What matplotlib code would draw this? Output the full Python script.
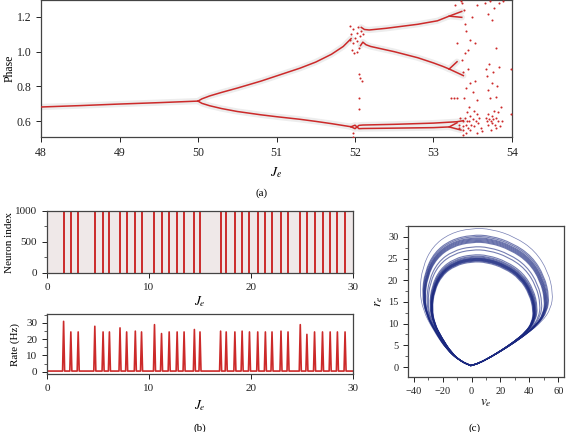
import numpy as np
import matplotlib.pyplot as plt
from matplotlib.path import Path
from matplotlib.patches import PathPatch
from matplotlib.ticker import MultipleLocator

plt.rcParams['font.family'] = ['Liberation Serif', 'DejaVu Serif']
plt.rcParams['mathtext.fontset'] = 'stix'

# ---- panel (a): bifurcation branches (J_e, phase) ----
stem_x = [48.0, 48.5, 49.0, 49.5, 50.0]
stem_y = [0.681, 0.689, 0.698, 0.706, 0.715]
up_x = [50.0, 50.05, 50.15, 50.3, 50.5, 50.8, 51.0, 51.3, 51.5, 51.7, 51.85, 51.95]
up_y = [0.715, 0.728, 0.745, 0.765, 0.79, 0.83, 0.86, 0.905, 0.94, 0.985, 1.03, 1.075]
lo_x = [50.0, 50.05, 50.15, 50.3, 50.5, 50.8, 51.0, 51.3, 51.5, 51.7, 51.95]
lo_y = [0.715, 0.702, 0.688, 0.672, 0.655, 0.636, 0.625, 0.61, 0.598, 0.585, 0.567]
top_x = [52.08, 52.12, 52.18, 52.4, 52.8, 53.05, 53.2, 53.36]
top_y = [1.14, 1.128, 1.125, 1.135, 1.158, 1.178, 1.205, 1.232]
top_arm_x = [53.2, 53.36]
top_arm_y = [1.205, 1.198]
mid_x = [52.07, 52.1, 52.14, 52.2, 52.5, 52.8, 53.0, 53.12, 53.2]
mid_y = [1.035, 1.055, 1.04, 1.03, 1.0, 0.965, 0.935, 0.915, 0.9]
mid_arm1_x = [53.2, 53.3]
mid_arm1_y = [0.9, 0.942]
mid_arm2_x = [53.2, 53.38]
mid_arm2_y = [0.9, 0.862]
low1_x = [51.95, 52.0, 52.05, 52.1, 52.5, 53.0, 53.3, 53.38]
low1_y = [0.567, 0.556, 0.575, 0.577, 0.581, 0.588, 0.596, 0.602]
low2_x = [51.95, 52.0, 52.05, 52.1, 52.5, 53.0, 53.2, 53.3]
low2_y = [0.567, 0.576, 0.556, 0.557, 0.559, 0.562, 0.566, 0.59]
low_arm_x = [53.2, 53.35]
low_arm_y = [0.566, 0.548]

# scattered (irregular) states
scat_x = [51.93, 51.95, 51.97, 51.98, 52.0, 52.02, 52.03, 52.04, 52.05, 52.06,
          51.96, 51.99, 52.02, 52.08, 52.1, 51.94, 52.05, 52.07, 52.09, 52.05,
          52.05, 51.98, 51.97,
          53.28, 53.3, 53.3, 53.32, 53.33, 53.34, 53.35, 53.36, 53.36, 53.37,
          53.37, 53.38, 53.38, 53.39, 53.39, 53.4, 53.4, 53.4, 53.41, 53.41,
          53.42, 53.42, 53.43, 53.43, 53.44, 53.44, 53.44, 53.45, 53.45, 53.46,
          53.46, 53.47, 53.47, 53.48, 53.49, 53.5, 53.5, 53.51, 53.52, 53.53,
          53.53, 53.54, 53.55, 53.55, 53.56, 53.56, 53.57, 53.58, 53.6,
          53.66, 53.67, 53.67, 53.68, 53.68, 53.69, 53.69, 53.7, 53.7, 53.71,
          53.71, 53.72, 53.72, 53.73, 53.73, 53.74, 53.74, 53.75, 53.75, 53.76,
          53.76, 53.77, 53.77, 53.78, 53.79, 53.79, 53.8, 53.8, 53.81, 53.82,
          53.82, 53.83, 53.84, 53.85, 53.86, 53.87, 53.88, 53.99, 53.99,
          53.22, 53.26, 53.38, 53.62]
scat_y = [1.07, 1.10, 1.05, 1.13, 1.08, 1.11, 1.06, 1.14, 1.02, 1.09,
          1.01, 0.99, 1.00, 1.12, 1.10, 1.15, 0.87, 0.85, 0.83, 0.73,
          0.67, 0.51, 0.53,
          1.27, 1.05, 0.73, 0.58, 0.56, 0.62, 1.29, 1.28, 0.95, 0.88,
          0.57, 0.60, 0.55, 1.24, 0.73, 1.16, 0.99, 0.62, 0.58, 0.53,
          1.12, 0.79, 0.65, 0.60, 1.01, 0.90, 0.56, 0.68, 0.60, 1.07,
          0.82, 0.55, 0.63, 0.58, 1.20, 0.77, 0.61, 0.66, 0.57, 1.05,
          0.83, 0.60, 0.64, 0.53, 1.27, 0.72, 0.59, 0.62, 0.56,
          1.28, 0.90, 0.62, 0.86, 0.60, 1.22, 0.78, 0.64, 0.58, 0.93,
          0.61, 1.29, 0.73, 0.60, 0.55, 1.18, 0.82, 0.63, 0.59, 0.88,
          0.61, 1.25, 0.66, 0.58, 0.74, 0.62, 1.02, 0.56, 0.80, 0.65,
          0.60, 1.28, 0.91, 0.57, 0.68, 0.60, 1.29, 0.90, 0.64,
          0.73, 0.73, 0.52, 0.54]

# ---- panel (b): burst times and peak rates ----
burst_t = [1.63, 2.34, 3.06, 4.69, 5.50, 6.12, 7.16, 7.81, 8.66, 9.27,
           10.54, 11.23, 11.98, 12.76, 13.44, 14.45, 15.0, 17.02, 17.57, 18.42,
           19.13, 19.85, 20.66, 21.41, 22.06, 22.94, 23.63, 24.83, 25.48, 26.23,
           27.01, 27.76, 28.47, 29.22]
burst_h = [31, 24.5, 24.5, 28, 24.5, 24.5, 27, 24.5, 25, 24.5,
           29, 23.5, 24.5, 24.5, 24.5, 26, 24.5, 25, 24.5, 24.5,
           25, 24.5, 24.5, 24.5, 24.5, 25, 24.5, 29, 23, 24.5,
           24.5, 24.5, 24.5, 24.5]
rate_base = 0.4

# ---- panel (c): outer orbit (v_e, r_e) and peak r_e of each loop ----
orbit_v = [-0.7, -0.7, -9, -18, -27, -33.5, -36, -34, -27, -15, 0, 14, 30, 44, 53, 56.5, 55, 49, 38, 26, 14, 5]
orbit_r = [0.4, 0.4, 1.6, 4.2, 8.8, 13, 17.5, 23, 27.8, 30.8, 32, 31.8, 30, 26.8, 22, 17, 13.5, 10.5, 7.5, 4.8, 2.4, 0.9]
orbit_peak = 31.1
loop_peaks = [31.1, 29.6, 29.3, 29.0, 28.8, 28.6, 28.4, 28.2, 28.0, 27.0, 26.3,
              25.2, 24.9, 24.7, 24.5, 24.4, 24.3, 24.2, 24.1, 24.0, 23.9, 23.8, 23.6]

red = '#cc2a2a'
spine_c = '#444444'


def style(ax, fs):
    for s in ax.spines.values():
        s.set_color(spine_c)
        s.set_linewidth(0.9)
    ax.tick_params(colors='#222222', labelsize=fs, width=0.7, length=3.5)
    ax.tick_params(which='minor', width=0.6, length=2, colors='#444444')


fig = plt.figure(figsize=(5.68, 4.32), dpi=100)

# (a)
ax = fig.add_axes([0.0722, 0.6829, 0.8292, 0.3171])
branches = [(stem_x, stem_y), (up_x, up_y), (lo_x, lo_y), (top_x, top_y), (top_arm_x, top_arm_y),
            (mid_x, mid_y), (mid_arm1_x, mid_arm1_y), (mid_arm2_x, mid_arm2_y),
            (low1_x, low1_y), (low2_x, low2_y), (low_arm_x, low_arm_y)]
for bx, by in branches:
    ax.plot(bx, by, color='#ededed', lw=4.5, solid_capstyle='round', zorder=1)
for bx, by in branches:
    ax.plot(bx, by, color=red, lw=1.1, zorder=3)
ax.scatter(scat_x, scat_y, s=2.2, color=red, linewidths=0, zorder=4)
ax.set_xlim(48, 54)
ax.set_ylim(0.508, 1.298)
ax.set_xticks([48, 49, 50, 51, 52, 53, 54])
ax.set_yticks([0.6, 0.8, 1.0, 1.2])
ax.set_yticklabels(['0.6', '0.8', '1.0', '1.2'])
style(ax, 8.5)
ax.set_ylabel('Phase', fontsize=8.5, va='center')
ax.yaxis.set_label_coords(-0.066, 0.5)
ax.set_xlabel('$J_e$', fontsize=10, labelpad=5)
fig.text(0.46, 0.553, '(a)', fontsize=8, ha='center', va='center')

# (b) raster
axr = fig.add_axes([0.0827, 0.368, 0.5388, 0.1436])
axr.set_facecolor('#efe8e8')
axr.vlines(burst_t, 0, 1000, color=red, lw=1.4)
axr.set_xlim(0, 30)
axr.set_ylim(-8, 1000)
axr.set_xticks([0, 10, 20, 30])
axr.set_yticks([0, 500, 1000])
axr.yaxis.set_minor_locator(MultipleLocator(250))
style(axr, 8)
axr.set_ylabel('Neuron index', fontsize=8, va='center')
axr.yaxis.set_label_coords(-0.122, 0.5)
axr.set_xlabel('$J_e$', fontsize=9.5, labelpad=2)

# (b) rate
axq = fig.add_axes([0.0827, 0.1343, 0.5388, 0.1387])
rt = [0.0]
ry = [rate_base]
for t, h in zip(burst_t, burst_h):
    rt += [t - 0.1, t, t + 0.1]
    ry += [rate_base, h, rate_base]
rt.append(30.0)
ry.append(rate_base)
axq.plot(rt, ry, color=red, lw=1.2)
axq.set_xlim(0, 30)
axq.set_ylim(-1.4, 35.5)
axq.set_xticks([0, 10, 20, 30])
axq.set_yticks([0, 10, 20, 30])
axq.yaxis.set_minor_locator(MultipleLocator(5))
style(axq, 8)
axq.set_ylabel('Rate (Hz)', fontsize=8, va='center')
axq.yaxis.set_label_coords(-0.105, 0.5)
axq.set_xlabel('$J_e$', fontsize=9.5, labelpad=4)
fig.text(0.352, 0.009, '(b)', fontsize=8, ha='center', va='center')

# (c) phase portrait
axc = fig.add_axes([0.7183, 0.1273, 0.2746, 0.3496])
for pk in loop_peaks:
    f = pk / orbit_peak
    pts = np.column_stack([np.array(orbit_v) * f, np.array(orbit_r) * f])
    n = len(pts)
    mids = (pts + np.roll(pts, -1, axis=0)) / 2
    verts = [mids[-1]]
    codes = [Path.MOVETO]
    for i in range(n):
        verts += [pts[i], mids[i]]
        codes += [Path.CURVE3, Path.CURVE3]
    lw = 0.5 if pk > 30.5 else 0.8
    axc.add_patch(PathPatch(Path(verts, codes), facecolor='none', edgecolor='#1a2880',
                            lw=lw, alpha=0.6))
axc.set_xlim(-44, 64)
axc.set_ylim(-2.3, 32.5)
axc.set_xticks([-40, -20, 0, 20, 40, 60])
axc.set_xticklabels(['\u221240', '\u221220', '0', '20', '40', '60'])
axc.set_yticks([0, 5, 10, 15, 20, 25, 30])
axc.xaxis.set_minor_locator(MultipleLocator(10))
axc.yaxis.set_minor_locator(MultipleLocator(2.5))
style(axc, 7.5)
axc.set_ylabel('$r_e$', fontsize=9.5, labelpad=2)
axc.set_xlabel('$v_e$', fontsize=9.5, labelpad=1)
fig.text(0.836, 0.009, '(c)', fontsize=8, ha='center', va='center')

fig.savefig('out.png', dpi=100)
